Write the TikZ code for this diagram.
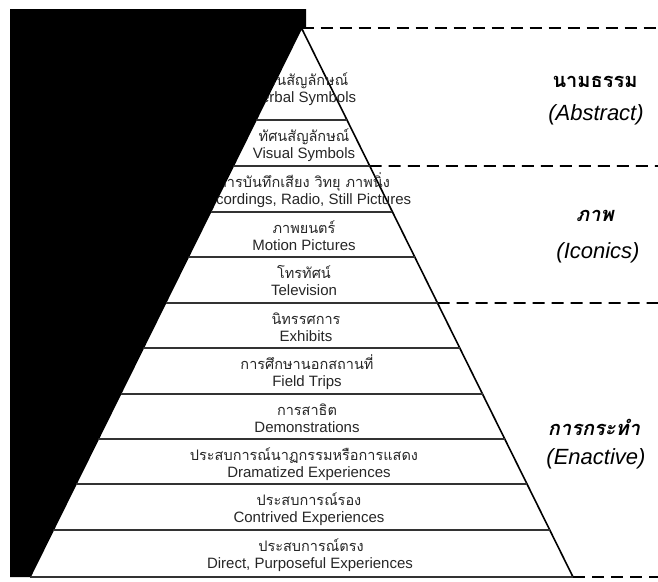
\documentclass[tikz,border=0pt]{standalone}
\usepackage{fontspec}
\setmainfont{Liberation Sans}
\newfontfamily\thaifont[Script=Thai]{Loma}
\usetikzlibrary{calc}
\begin{document}
\begin{tikzpicture}[x=1pt,y=-1pt,
    rowline/.style={line width=1.6pt,draw=black!80},
    sideline/.style={line width=1.6pt},
    zoneline/.style={line width=1.6pt,dash pattern=on 12pt off 7pt},
    thairow/.style={anchor=base,inner sep=0pt,font=\thaifont\fontsize{14.5}{16}\selectfont,text=black!85},
    engrow/.style={anchor=base,inner sep=0pt,font=\fontsize{15}{17}\selectfont,text=black!85},
    zonethai/.style={inner sep=0pt,font=\thaifont\bfseries\fontsize{20}{24}\selectfont},
    zoneslant/.style={inner sep=0pt,font=\thaifont\bfseries\itshape\fontsize{20}{24}\selectfont},
    zoneeng/.style={inner sep=0pt,font=\itshape\fontsize{22}{26}\selectfont}]
  \useasboundingbox (0,0) rectangle (658,581);
  \coordinate (apex) at (301.5,28);
  \coordinate (baseL) at (30,577);
  \coordinate (baseR) at (573,577);
  % row borders on both sides of the cone
  \foreach \y [count=\i] in {120,166,212,257,303,348,394,439,484,530} {
    \coordinate (L\i) at ($(apex)!{(\y-28)/549}!(baseL)$);
    \coordinate (R\i) at ($(apex)!{(\y-28)/549}!(baseR)$);
  }
  \coordinate (z0) at (658,28);
  \coordinate (z1) at (658,166);
  \coordinate (z2) at (658,303);
  \coordinate (z3) at (658,577);
  % cone
  \draw[sideline] (baseL) -- (apex) -- (baseR);
  \draw[rowline] (baseL) -- (baseR);
  \foreach \i in {1,...,10}
    \draw[rowline] (L\i) -- (R\i);
  % zones
  \begin{scope}[zoneline]
    \draw (apex) -- (z0);
    \draw (R2) -- (z1);
    \draw (R5) -- (z2);
    \draw (baseR) -- (z3);
  \end{scope}
  % rows
  \node[thairow] (th1) at (304,85) {วัจนสัญลักษณ์};
  \node[engrow] (en1) at (304,102) {Verbal Symbols};
  \node[thairow] (th2) at (304,141) {ทัศนสัญลักษณ์};
  \node[engrow] (en2) at (304,158) {Visual Symbols};
  \node[thairow] (th3) at (304,187) {การบันทึกเสียง วิทยุ ภาพนิ่ง};
  \node[engrow] (en3) at (304,204) {Recordings, Radio, Still Pictures};
  \node[thairow] (th4) at (304,233) {ภาพยนตร์};
  \node[engrow] (en4) at (304,250) {Motion Pictures};
  \node[thairow] (th5) at (304,278) {โทรทัศน์};
  \node[engrow] (en5) at (304,295) {Television};
  \node[thairow] (th6) at (306,324) {นิทรรศการ};
  \node[engrow] (en6) at (306,341) {Exhibits};
  \node[thairow] (th7) at (307,369) {การศึกษานอกสถานที่};
  \node[engrow] (en7) at (307,386) {Field Trips};
  \node[thairow] (th8) at (307,415) {การสาธิต};
  \node[engrow] (en8) at (307,432) {Demonstrations};
  \node[thairow] (th9) at (304,460) {ประสบการณ์นาฏกรรมหรือการแสดง};
  \node[engrow] (en9) at (309,477) {Dramatized Experiences};
  \node[thairow] (th10) at (309,505) {ประสบการณ์รอง};
  \node[engrow] (en10) at (309,522) {Contrived Experiences};
  \node[thairow] (th11) at (311,551) {ประสบการณ์ตรง};
  \node[engrow] (en11) at (310,568) {Direct, Purposeful Experiences};
  % zone labels
  \node[zonethai] (abs1) at (595,82) {นามธรรม};
  \node[zoneeng] (abs2) at (596,115) {(Abstract)};
  \node[zoneslant] (ico1) at (595,216) {ภาพ};
  \node[zoneeng] (ico2) at (598,253) {(Iconics)};
  \node[zoneslant] (ena1) at (594,427) {การกระทำ};
  \node[zoneeng] (ena2) at (596,459) {(Enactive)};
  % black patch over the left of the cone
  \fill (10,9) -- (306,9) -- (306,27) -- (apex) -- (baseL) -- (10,577) -- cycle;
\end{tikzpicture}
\end{document}
